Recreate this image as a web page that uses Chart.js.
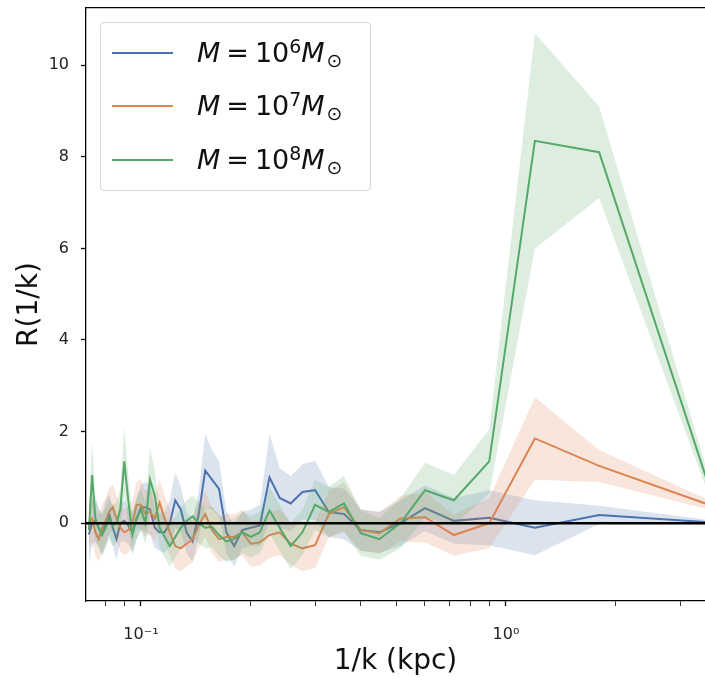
<!DOCTYPE html><html lang="en">
<head>
  <meta charset="UTF-8" />
  <title>R(1/k)</title>
  <script src="https://cdn.jsdelivr.net/npm/chart.js"></script>
  <style>
    body { margin: 0; background: #fff; font-family: 'DejaVu Sans', sans-serif; }
    #wrap { position: relative; width: 705px; height: 681px; }
    #legend { position: absolute; left: 100px; top: 22px; width: 269px; height: 167px; border: 1px solid #d6d6d6; border-radius: 4px; background: rgba(255,255,255,0.85); }
    .row { position: absolute; left: 0; width: 100%; height: 34px; }
    .row .ln { position: absolute; left: 11px; top: 16px; width: 61px; height: 2px; }
    .row .txt { position: absolute; left: 96px; top: 0; font-size: 27px; line-height: 34px; color: #111; white-space: nowrap; }
    .txt i { font-style: oblique; }
    .txt .eq { margin: 0 6px; }
    .txt sup { font-size: 70%; position: relative; top: -0.5em; vertical-align: baseline; }
    .txt sub { font-size: 70%; position: relative; top: 0.25em; vertical-align: baseline; margin-left: 2px; }
  </style>
</head>
<body>
<div id="wrap">
  <canvas id="chart" width="705" height="681"></canvas>
  <div id="legend">
    <div class="row" style="top:13px"><div class="ln" style="background:#4C72B0"></div><div class="txt"><i>M</i><span class="eq">=</span>10<sup>6</sup><i>M</i><sub>⊙</sub></div></div>
    <div class="row" style="top:66px"><div class="ln" style="background:#DD8452"></div><div class="txt"><i>M</i><span class="eq">=</span>10<sup>7</sup><i>M</i><sub>⊙</sub></div></div>
    <div class="row" style="top:120px"><div class="ln" style="background:#55A868"></div><div class="txt"><i>M</i><span class="eq">=</span>10<sup>8</sup><i>M</i><sub>⊙</sub></div></div>
  </div>
</div>
<script>
// 1/k values (kpc)
const invK = [0.072, 0.07347, 0.075, 0.0766, 0.07826, 0.08, 0.08182, 0.08372, 0.08571, 0.0878,
  0.09, 0.09231, 0.09474, 0.0973, 0.1, 0.10286, 0.10588, 0.10909, 0.1125, 0.11613,
  0.12, 0.12414, 0.12857, 0.13333, 0.13846, 0.144, 0.15, 0.15652, 0.16364, 0.17143,
  0.18, 0.18947, 0.2, 0.21176, 0.225, 0.24, 0.25714, 0.27692, 0.3, 0.32727,
  0.36, 0.4, 0.45, 0.51429, 0.6, 0.72, 0.9, 1.2, 1.8, 3.6];

// M = 1e6
const r6 = [-0.25, 0.0, 0.05, -0.1, -0.25, 0.0, 0.2, -0.1, -0.35, 0.0,
  0.05, -0.05, -0.2, 0.1, 0.35, 0.35, 0.3, -0.1, -0.2, -0.2,
  0.0, 0.5, 0.3, -0.2, -0.4, 0.2, 1.15, 0.95, 0.75, -0.2,
  -0.5, -0.15, -0.1, -0.05, 1.0, 0.55, 0.43, 0.68, 0.72, 0.24,
  0.2, -0.15, -0.2, 0.0, 0.33, 0.05, 0.12, -0.1, 0.18, 0.02];
const err6 = [0.6, 0.5, 0.45, 0.4, 0.45, 0.5, 0.45, 0.4, 0.45, 0.4,
  0.45, 0.4, 0.45, 0.45, 0.5, 0.55, 0.55, 0.45, 0.4, 0.45,
  0.5, 0.6, 0.5, 0.45, 0.45, 0.5, 0.8, 0.65, 0.6, 0.45,
  0.45, 0.4, 0.4, 0.45, 0.95, 0.65, 0.6, 0.6, 0.65, 0.55,
  0.55, 0.45, 0.45, 0.5, 0.5, 0.5, 0.6, 0.6, 0.2, 0.05];

// M = 1e7
const r7 = [0.0, 0.1, -0.2, -0.35, -0.1, 0.05, 0.25, 0.35, 0.1, -0.1,
  -0.2, -0.15, 0.0, 0.4, 0.4, 0.2, 0.25, 0.1, 0.45, 0.1,
  -0.2, -0.5, -0.55, -0.45, -0.35, -0.05, 0.2, -0.15, -0.35, -0.3,
  -0.3, -0.2, -0.45, -0.42, -0.26, -0.2, -0.45, -0.55, -0.48, 0.2,
  0.35, -0.15, -0.22, 0.1, 0.13, -0.26, 0.0, 1.85, 1.25, 0.4];
const err7 = [0.55, 0.5, 0.5, 0.5, 0.5, 0.5, 0.5, 0.5, 0.5, 0.5,
  0.5, 0.5, 0.5, 0.5, 0.55, 0.5, 0.5, 0.5, 0.5, 0.5,
  0.5, 0.5, 0.5, 0.5, 0.5, 0.5, 0.5, 0.5, 0.5, 0.5,
  0.5, 0.5, 0.5, 0.5, 0.5, 0.5, 0.45, 0.5, 0.5, 0.5,
  0.55, 0.45, 0.45, 0.5, 0.55, 0.45, 0.55, 0.9, 0.35, 0.1];

// M = 1e8
const r8 = [-0.15, 1.05, 0.1, -0.1, -0.25, -0.1, 0.1, -0.05, 0.0, 0.3,
  1.35, 0.5, -0.25, 0.1, 0.3, 0.0, 0.95, 0.6, -0.1, -0.3,
  -0.5, -0.3, -0.1, 0.05, 0.15, 0.0, -0.1, -0.08, -0.26, -0.4,
  -0.35, -0.2, -0.3, -0.2, 0.28, -0.1, -0.5, -0.2, 0.4, 0.24,
  0.43, -0.22, -0.35, 0.0, 0.72, 0.5, 1.35, 8.35, 8.1, 0.8];
const err8 = [0.5, 0.75, 0.5, 0.45, 0.45, 0.45, 0.45, 0.45, 0.45, 0.45,
  0.75, 0.55, 0.45, 0.45, 0.45, 0.45, 0.7, 0.55, 0.45, 0.45,
  0.45, 0.45, 0.45, 0.45, 0.45, 0.45, 0.45, 0.45, 0.45, 0.45,
  0.45, 0.45, 0.45, 0.45, 0.5, 0.5, 0.5, 0.5, 0.55, 0.55,
  0.6, 0.5, 0.45, 0.55, 0.6, 0.55, 0.7, 2.35, 1.0, 0.2];

const xTicks = [0.08, 0.09, 0.1, 0.2, 0.3, 0.4, 0.5, 0.6, 0.7, 0.8, 0.9, 1, 2, 3];
const yTicks = [0, 2, 4, 6, 8, 10];

const series = [
  { vals: r8, err: err8, color: '#55A868', band: 'rgba(85,168,104,0.2)' },
  { vals: r7, err: err7, color: '#DD8452', band: 'rgba(221,132,82,0.2)' },
  { vals: r6, err: err6, color: '#4C72B0', band: 'rgba(76,114,176,0.2)' }
];

const pts = arr => arr.map((v, i) => ({ x: invK[i], y: v }));

const datasets = [{
  data: [{ x: invK[0] * 0.9, y: 0 }, { x: invK[invK.length - 1] * 1.1, y: 0 }],
  borderColor: '#000', borderWidth: 2.5, pointRadius: 0, order: 0
}];
let ord = 1;
series.forEach(s => {
  datasets.push({ data: pts(s.vals), borderColor: s.color, borderWidth: 2, pointRadius: 0, tension: 0, order: ord++ });
  datasets.push({ data: pts(s.vals.map((v, i) => v + s.err[i])), borderWidth: 0, borderColor: 'rgba(0,0,0,0)', pointRadius: 0, order: ord });
  datasets.push({ data: pts(s.vals.map((v, i) => v - s.err[i])), borderWidth: 0, borderColor: 'rgba(0,0,0,0)', pointRadius: 0, fill: '-1', backgroundColor: s.band, order: ord++ });
});

const tickFont = { family: 'DejaVu Sans', size: 16 };
const titleFont = { family: 'DejaVu Sans', size: 28 };

new Chart(document.getElementById('chart'), {
  type: 'line',
  data: { datasets },
  options: {
    responsive: false,
    animation: false,
    devicePixelRatio: 1,
    layout: { padding: 0 },
    plugins: { legend: { display: false }, tooltip: { enabled: false } },
    scales: {
      x: {
        type: 'logarithmic', min: 0.0707, max: 3.51,
        afterBuildTicks: sc => { sc.ticks = xTicks.map(v => ({ value: v, major: v === 0.1 || v === 1 })); },
        afterFit: sc => { sc.height = 80; sc.paddingLeft = 0; sc.paddingRight = 0; },
        ticks: {
          autoSkip: false, maxRotation: 0, padding: 19, color: '#222', font: tickFont,
          callback: v => v === 0.1 ? '10⁻¹' : (v === 1 ? '10⁰' : '')
        },
        grid: { drawOnChartArea: false, tickLength: 5, tickColor: '#000',
          tickWidth: c => (c.tick && (c.tick.value === 0.1 || c.tick.value === 1)) ? 1.3 : 0.8 },
        border: { color: '#000', width: 1.3 },
        title: { display: true, text: '1/k (kpc)', color: '#111', font: titleFont, padding: { top: 0, bottom: 2 } }
      },
      xTop: {
        type: 'logarithmic', position: 'top', min: 0.0707, max: 3.51,
        afterFit: sc => { sc.height = 8; sc.paddingLeft = 0; sc.paddingRight = 0; },
        ticks: { display: false },
        grid: { drawOnChartArea: false, drawTicks: false },
        border: { color: '#000', width: 1.3 }
      },
      y: {
        min: -1.7, max: 11.25,
        afterBuildTicks: sc => { sc.ticks = yTicks.map(v => ({ value: v })); },
        afterFit: sc => { sc.width = 86; sc.paddingTop = 0; sc.paddingBottom = 0; },
        ticks: { padding: 12, color: '#222', font: tickFont },
        grid: { drawOnChartArea: false, tickLength: 5, tickColor: '#000', tickWidth: 1.3 },
        border: { color: '#000', width: 1.3 },
        title: { display: true, text: 'R(1/k)', color: '#111', font: titleFont, padding: { top: 13, bottom: 0 } }
      }
    }
  }
});
</script>
</body>
</html>
